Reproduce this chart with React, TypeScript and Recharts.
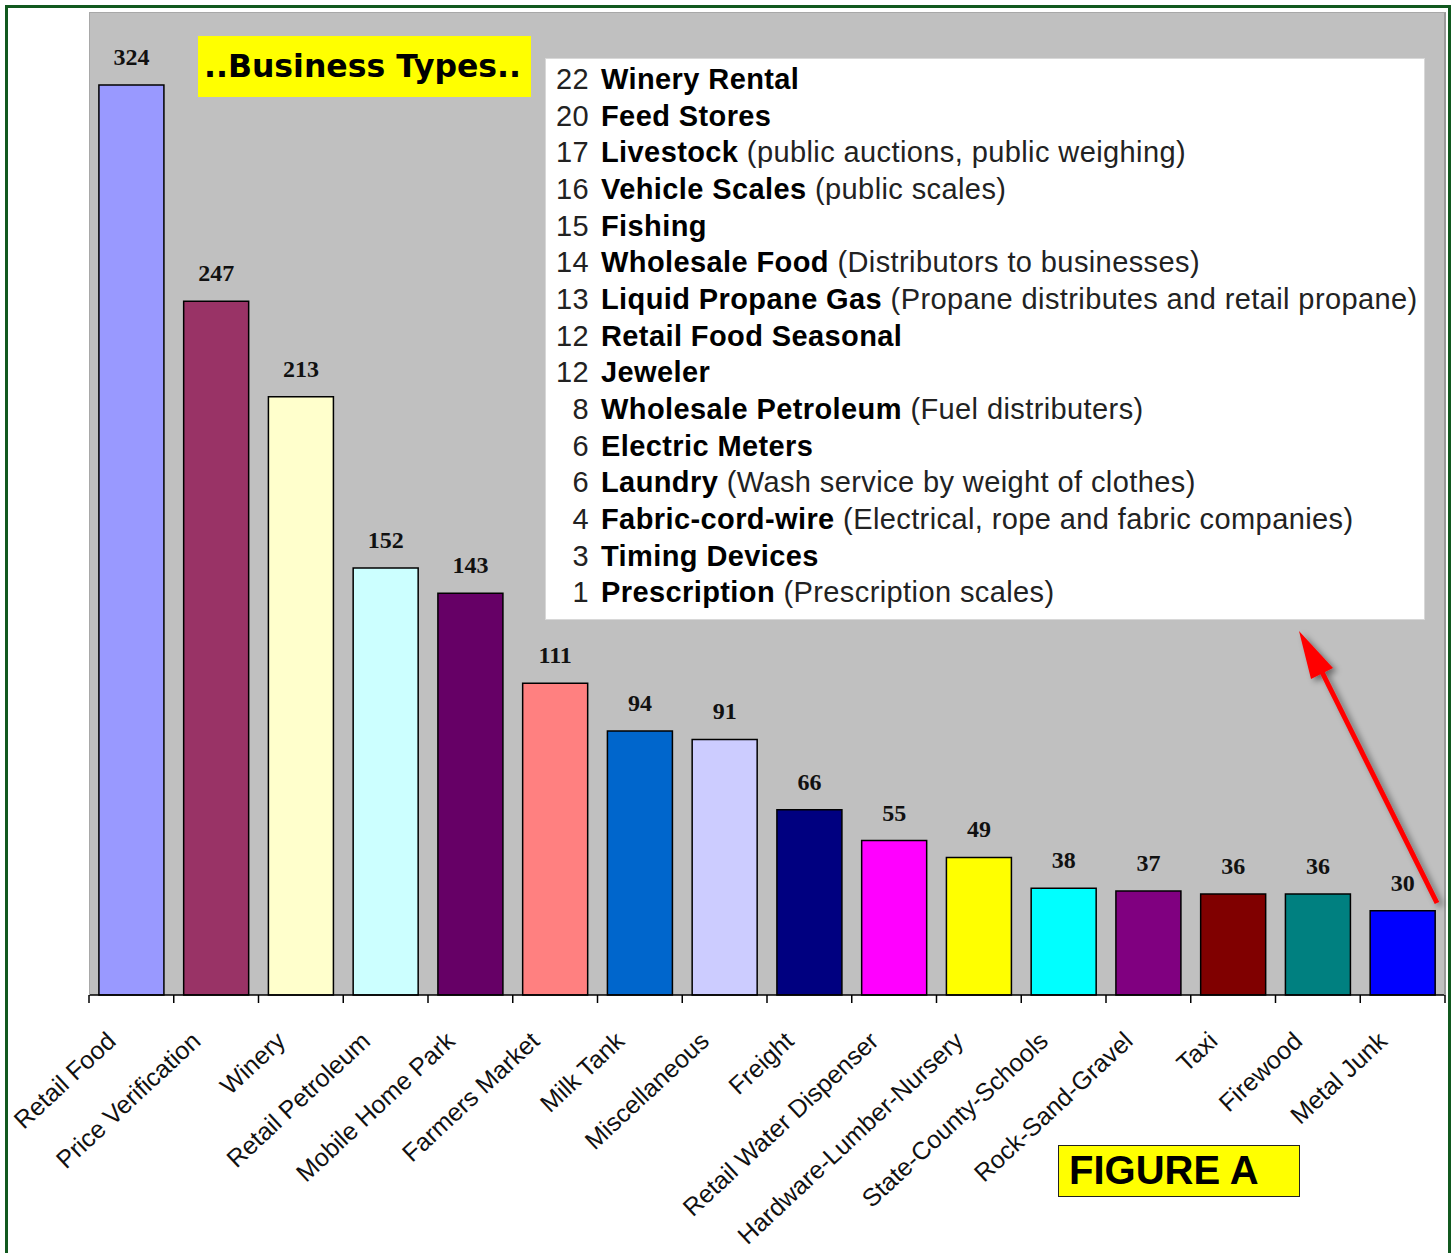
import { BarChart, Bar, XAxis, YAxis, CartesianGrid, LabelList, Cell } from 'recharts'

// main chart: inspections by business type
const categories = [
  'Retail Food', 'Price Verification', 'Winery', 'Retail Petroleum', 'Mobile Home Park',
  'Farmers Market', 'Milk Tank', 'Miscellaneous', 'Freight', 'Retail Water Dispenser',
  'Hardware-Lumber-Nursery', 'State-County-Schools', 'Rock-Sand-Gravel', 'Taxi', 'Firewood', 'Metal Junk',
]
const counts = [324, 247, 213, 152, 143, 111, 94, 91, 66, 55, 49, 38, 37, 36, 36, 30]
const barColors = [
  '#9999FF', '#993366', '#FFFFCC', '#CCFFFF', '#660066', '#FF8080', '#0066CC', '#CCCCFF',
  '#000080', '#FF00FF', '#FFFF00', '#00FFFF', '#800080', '#800000', '#008080', '#0000FF',
]

// the small ones, listed in the box
const otherCounts = [22, 20, 17, 16, 15, 14, 13, 12, 12, 8, 6, 6, 4, 3, 1]
const otherNames = [
  'Winery Rental', 'Feed Stores', 'Livestock', 'Vehicle Scales', 'Fishing', 'Wholesale Food',
  'Liquid Propane Gas', 'Retail Food Seasonal', 'Jeweler', 'Wholesale Petroleum', 'Electric Meters',
  'Laundry', 'Fabric-cord-wire', 'Timing Devices', 'Prescription',
]
const otherNotes = [
  '', '', '(public auctions, public weighing)', '(public scales)', '', '(Distributors to businesses)',
  '(Propane distributes and retail propane)', '', '', '(Fuel distributers)', '',
  '(Wash service by weight of clothes)', '(Electrical, rope and fabric companies)', '', '(Prescription scales)',
]

const data = categories.map((name, i) => ({ name, count: counts[i] }))

const W = 1455
const H = 1253
const MARGIN = { top: 12, right: 10, left: 89, bottom: 58 }
const STEP = (W - MARGIN.left - MARGIN.right) / categories.length

const SANS = '"Liberation Sans", Arial, sans-serif'

// eslint-disable-next-line @typescript-eslint/no-explicit-any
function CategoryTick({ x, y, payload, index }: any) {
  const half = STEP / 2
  const ax = x - 14
  const ay = y + 48
  return (
    <g>
      <line x1={x - half} y1={y} x2={x - half} y2={y + 8} stroke="#000" strokeWidth={1.5} />
      {index === categories.length - 1 && (
        <line x1={x + half} y1={y} x2={x + half} y2={y + 8} stroke="#000" strokeWidth={1.5} />
      )}
      <text
        x={ax}
        y={ay}
        textAnchor="end"
        transform={`rotate(-43, ${ax}, ${ay})`}
        fontSize={25}
        fontFamily={SANS}
        fill="#111"
      >
        {payload.value}
      </text>
    </g>
  )
}

export default function App() {
  return (
    <div style={{ position: 'absolute', left: 0, top: 0, width: W, height: H, background: '#fff', overflow: 'hidden' }}>
      <div style={{
        position: 'absolute', left: 5, top: 5, width: 1440, height: 1270,
        border: '3px solid #11591f',
      }} />
      <BarChart width={W} height={H} data={data} margin={MARGIN} barCategoryGap="11.7%">
        <CartesianGrid fill="#C0C0C0" stroke="none" horizontal={false} vertical={false} />
        <XAxis
          dataKey="name"
          interval={0}
          height={200}
          tickSize={0}
          tickMargin={0}
          tickLine={false}
          axisLine={{ stroke: '#000', strokeWidth: 1.5 }}
          tick={<CategoryTick />}
        />
        <YAxis hide domain={[0, 350]} />
        <Bar dataKey="count" stroke="#000" strokeWidth={1.5} isAnimationActive={false}>
          {data.map((d, i) => <Cell key={d.name} fill={barColors[i]} />)}
          <LabelList
            dataKey="count"
            position="top"
            offset={20}
            fill="#111"
            fontSize={24}
            fontWeight="bold"
            fontFamily='"Liberation Serif", "Times New Roman", serif'
          />
        </Bar>
      </BarChart>

      {/* plot frame shading */}
      <div style={{
        position: 'absolute', left: 89, top: 12, width: 1354, height: 982,
        borderTop: '1px solid #a8a8a8', borderLeft: '1px solid #a8a8a8', borderRight: '2px solid #9a9a9a',
        pointerEvents: 'none',
      }} />

      <div style={{
        position: 'absolute', left: 198, top: 36, width: 333, height: 61, background: '#FFFF00',
        fontFamily: '"DejaVu Sans", Verdana, sans-serif', fontWeight: 'bold', fontSize: 31.5,
        lineHeight: '61px', paddingLeft: 6, boxSizing: 'border-box', color: '#000', whiteSpace: 'nowrap',
      }}>
        ..Business Types..
      </div>

      <div style={{
        position: 'absolute', left: 545, top: 58, width: 880, height: 562, background: '#fff',
        border: '1px solid #d8d8d8', boxSizing: 'border-box', padding: '2px 0 0 9px',
        fontFamily: SANS, fontSize: 29, letterSpacing: 0.4, lineHeight: '36.65px', color: '#000', whiteSpace: 'nowrap',
      }}>
        {otherNames.map((name, i) => (
          <div key={name + i}>
            <span style={{ display: 'inline-block', width: 34, textAlign: 'right', color: '#222' }}>{otherCounts[i]}</span>
            <span style={{ fontWeight: 'bold', marginLeft: 12 }}>{name}</span>
            {otherNotes[i] && <span style={{ color: '#222' }}> {otherNotes[i]}</span>}
          </div>
        ))}
      </div>

      <div style={{
        position: 'absolute', left: 1058, top: 1145, width: 242, height: 52, background: '#FFFF00',
        border: '1.5px solid #222', boxSizing: 'border-box', paddingLeft: 10,
        fontFamily: SANS, fontWeight: 'bold', fontSize: 40, lineHeight: '49px', color: '#000',
      }}>
        FIGURE A
      </div>

      <svg width={W} height={H} style={{ position: 'absolute', left: 0, top: 0, pointerEvents: 'none' }}>
        <defs>
          <filter id="shadow" x="-20%" y="-20%" width="140%" height="140%">
            <feDropShadow dx="4" dy="3" stdDeviation="3" floodColor="#000" floodOpacity="0.45" />
          </filter>
        </defs>
        <g filter="url(#shadow)">
          <line x1={1437} y1={903} x2={1320} y2={668} stroke="#FF0000" strokeWidth={5} />
          <polygon points="1299,631 1311,679 1333,668" fill="#FF0000" />
        </g>
      </svg>
    </div>
  )
}
